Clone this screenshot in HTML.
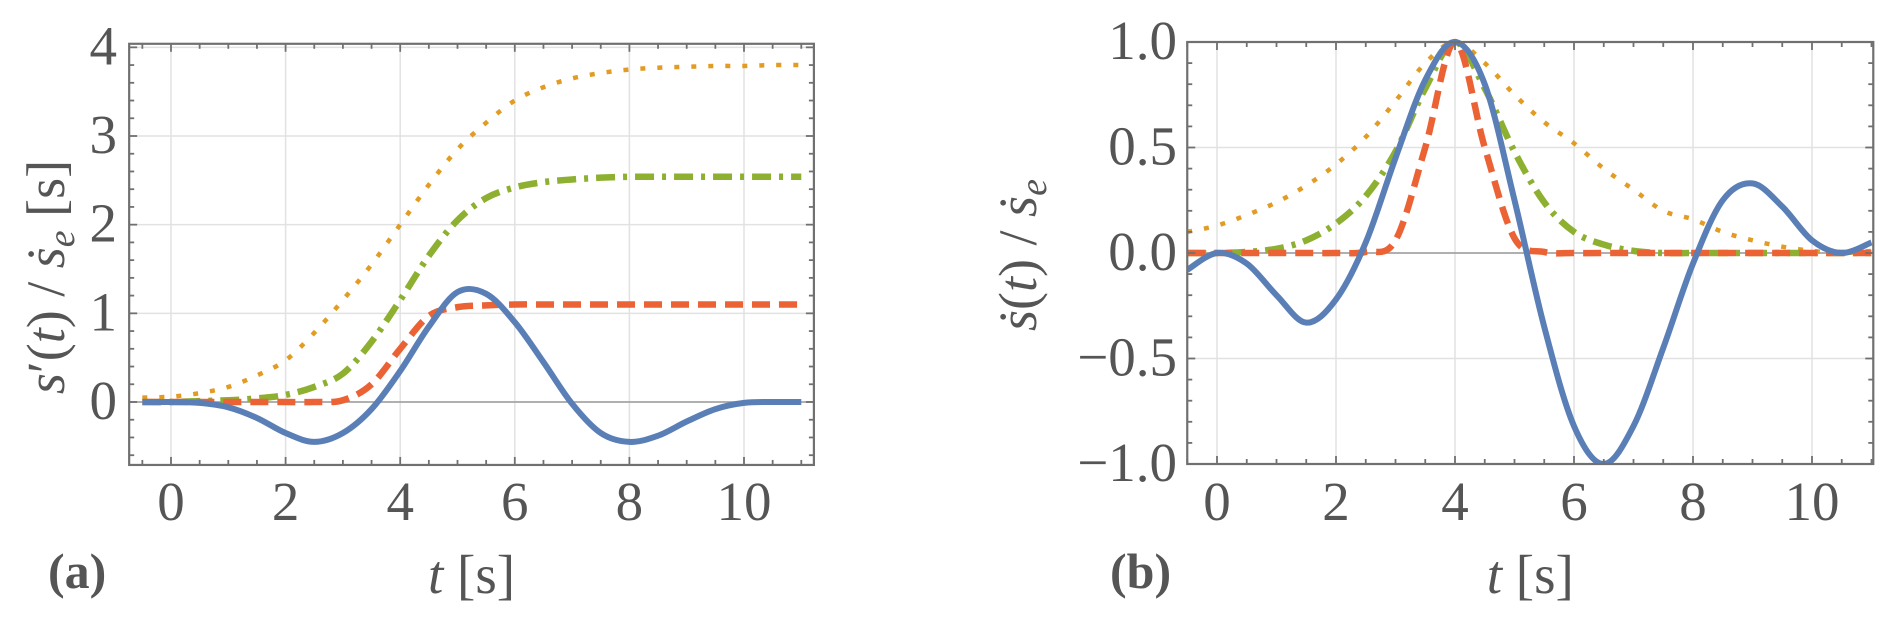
<!DOCTYPE html>
<html><head><meta charset="utf-8">
<style>
html,body{margin:0;padding:0;background:#fff;}
svg{display:block;}
text{font-family:"Liberation Serif","DejaVu Serif",serif;fill:#555;}
</style></head>
<body>
<svg id="fig" width="1892" height="619" viewBox="0 0 1892 619" xmlns="http://www.w3.org/2000/svg">
<g id="pa"></g>
<g id="pb"></g>
</svg>
<script>
// shared time samples
const tValues = [-0.5,0,0.5,1,1.5,2,2.5,3,3.5,4,4.5,5,5.5,6,6.5,7,7.5,8,8.5,9,9.5,10,10.5,11];
// panel (a)
const aBlue   = [0,0,-0.01,-0.06,-0.18,-0.35,-0.45,-0.35,-0.08,0.35,0.85,1.24,1.22,0.9,0.45,-0.02,-0.35,-0.45,-0.38,-0.22,-0.08,-0.01,0,0];
const aOrange = [0.05,0.06,0.1,0.17,0.3,0.47,0.78,1.15,1.55,2.0,2.45,2.85,3.15,3.4,3.55,3.65,3.71,3.75,3.77,3.78,3.79,3.79,3.8,3.8];
const aGreen  = [0,0,0.01,0.02,0.04,0.08,0.17,0.32,0.68,1.15,1.65,2.05,2.3,2.42,2.48,2.51,2.53,2.54,2.54,2.54,2.54,2.54,2.54,2.54];
const aRed    = [0,0,0,0,0,0,0,0.02,0.2,0.6,0.97,1.07,1.09,1.1,1.1,1.1,1.1,1.1,1.1,1.1,1.1,1.1,1.1,1.1];
const aYTicks = ["0","1","2","3","4"];
const aXTicks = ["0","2","4","6","8","10"];
// panel (b)
const bBlue   = [-0.08,0,-0.05,-0.2,-0.33,-0.22,0.05,0.45,0.82,1.0,0.8,0.25,-0.35,-0.82,-1.0,-0.82,-0.45,-0.05,0.25,0.33,0.22,0.06,0.0,0.05];
const bOrange = [0.1,0.13,0.18,0.24,0.32,0.42,0.55,0.72,0.9,1.0,0.9,0.75,0.62,0.52,0.4,0.3,0.2,0.16,0.1,0.06,0.03,0.01,0,0.01];
const bGreen  = [0,0,0.005,0.02,0.06,0.14,0.27,0.48,0.78,1.0,0.78,0.48,0.24,0.1,0.04,0.01,0,0,0,0,0,0,0,0];
const bRed    = [0,0,0,0,0,0,0.005,0.06,0.5,1.0,0.5,0.07,0.005,0,0,0,0,0,0,0,0,0,0,0];
const bYTicks = ["−1.0","−0.5","0.0","0.5","1.0"];
const bXTicks = ["0","2","4","6","8","10"];

const NS="http://www.w3.org/2000/svg";
function mk(parent,tag,attrs){const e=document.createElementNS(NS,tag);for(const k in attrs)e.setAttribute(k,attrs[k]);parent.appendChild(e);return e;}

function smoothPath(pts){
  let d="M"+pts[0][0].toFixed(2)+","+pts[0][1].toFixed(2);
  for(let i=0;i<pts.length-1;i++){
    const p0=pts[Math.max(0,i-1)],p1=pts[i],p2=pts[i+1],p3=pts[Math.min(pts.length-1,i+2)];
    const c1=[p1[0]+(p2[0]-p0[0])/6,p1[1]+(p2[1]-p0[1])/6];
    const c2=[p2[0]-(p3[0]-p1[0])/6,p2[1]-(p3[1]-p1[1])/6];
    d+=" C"+c1[0].toFixed(2)+","+c1[1].toFixed(2)+" "+c2[0].toFixed(2)+","+c2[1].toFixed(2)+" "+p2[0].toFixed(2)+","+p2[1].toFixed(2);
  }
  return d;
}

function panel(g,cfg){
  const X=v=>cfg.x0px+(v-cfg.xmin)*(cfg.x1px-cfg.x0px)/(cfg.xmax-cfg.xmin);
  const Y=v=>cfg.y0px-(v-cfg.ymin)*(cfg.y0px-cfg.y1px)/(cfg.ymax-cfg.ymin);
  const L=X(cfg.xl),R=X(cfg.xr),T=Y(cfg.yt),B=Y(cfg.yb);
  const grid=mk(g,"g",{});
  
  
  cfg.xMaj.forEach(v=>mk(grid,"line",{x1:X(v),x2:X(v),y1:T,y2:B,stroke:"#e2e2e2","stroke-width":1.5}));
  cfg.yMaj.forEach(v=>mk(grid,"line",{x1:L,x2:R,y1:Y(v),y2:Y(v),stroke:"#e2e2e2","stroke-width":1.5}));
  const zl=mk(g,"line",{x1:L,x2:R,y1:Y(0),y2:Y(0),stroke:"#9a9a9a","stroke-width":1.6});
  
  
  const cp=mk(g,"clipPath",{id:cfg.id+"clip"});
  mk(cp,"rect",{x:L,y:T-4,width:R-L,height:B-T+4});
  const series=[
    {name:"orange-dotted",data:cfg.orange,color:"#E29B23",w:4.5,dash:"5 12"},
    {name:"green-dash-dot",data:cfg.green,color:"#8DB031",w:6.5,dash:"19 8 4 8"},
    {name:"red-dashed",data:cfg.red,color:"#EB6235",w:6.5,dash:"18 9"},
    {name:"blue-solid",data:cfg.blue,color:"#5A7FB7",w:6,dash:"none"}
  ];
  const sg=mk(g,"g",{"clip-path":"url(#"+cfg.id+"clip)"});
  series.forEach(s=>{
    const pts=tValues.map((t,i)=>[X(t),Y(s.data[i])]);
    const p=mk(sg,"path",{d:smoothPath(pts),fill:"none",stroke:s.color,"stroke-width":s.w,"stroke-dasharray":s.dash,"stroke-linecap":"butt","stroke-linejoin":"round"});
    
    
  });
  const fr=mk(g,"rect",{x:L,y:T,width:R-L,height:B-T,fill:"none",stroke:"#707070","stroke-width":2.2});
  
  
  const tk=mk(g,"g",{stroke:"#707070","stroke-width":1.8});
  
  
  cfg.xMin.forEach(v=>{if(X(v)<L||X(v)>R)return;const len=cfg.xMaj.includes(v)?8:5;
    mk(tk,"line",{x1:X(v),x2:X(v),y1:B,y2:B-len});mk(tk,"line",{x1:X(v),x2:X(v),y1:T,y2:T+len});});
  cfg.yMin.forEach(v=>{if(Y(v)<T-0.5||Y(v)>B+0.5)return;const len=cfg.yMaj.some(m=>Math.abs(m-v)<1e-6)?8:5;
    mk(tk,"line",{x1:L,x2:L+len,y1:Y(v),y2:Y(v)});mk(tk,"line",{x1:R,x2:R-len,y1:Y(v),y2:Y(v)});});
  cfg.yMaj.forEach((v,i)=>{
    const t=mk(g,"text",{x:cfg.ylabX,y:Y(v)+17,"text-anchor":"end","font-size":55});
    t.textContent=cfg.yTicks[i];
    
    
  });
  cfg.xMaj.forEach((v,i)=>{
    const t=mk(g,"text",{x:X(v),y:520,"text-anchor":"middle","font-size":55});
    t.textContent=cfg.xTicks[i];
    
    
  });
  const xt=mk(g,"text",{x:(L+R)/2,y:593,"text-anchor":"middle","font-size":55});
  xt.innerHTML='<tspan font-style="italic">t</tspan> [s]';
  
  
  const pl=mk(g,"text",{x:cfg.letterX,y:588,"font-size":50,"font-weight":"bold"});
  pl.textContent=cfg.letter;
  
  
  const yt=mk(g,"text",{x:0,y:0,"text-anchor":"middle","font-size":54,transform:"translate("+cfg.ytX+","+cfg.ytY+") rotate(-90)"});
  yt.innerHTML=cfg.yTitle;
  
  
}

const halves=(a,b,s)=>{const r=[];for(let v=a;v<=b+1e-9;v+=s)r.push(Math.round(v*100)/100);return r;};

panel(document.getElementById("pa"),{
  id:"a",xmin:0,xmax:2,x0px:171,x1px:285.6,ymin:0,ymax:3,y0px:402,y1px:136,
  xl:-0.73,xr:11.22,yt:4.04,yb:-0.71,
  xMaj:[0,2,4,6,8,10],xMin:halves(-0.5,11,0.5),
  yMaj:[0,1,2,3,4],yMin:halves(-0.6,4,0.2),
  blue:aBlue,orange:aOrange,green:aGreen,red:aRed,
  yTicks:aYTicks,xTicks:aXTicks,ylabX:117,letter:"(a)",letterX:48,
  ytX:64,ytY:277,
  yTitle:'<tspan font-style="italic">s</tspan>′(<tspan font-style="italic">t</tspan>) / <tspan font-style="italic">ṡ</tspan><tspan font-style="italic" font-size="38" dy="10">e</tspan><tspan dy="-10">  [s]</tspan>'
});
panel(document.getElementById("pb"),{
  id:"b",xmin:0,xmax:10,x0px:1217,x1px:1812,ymin:0,ymax:1,y0px:253,y1px:42,
  xl:-0.5,xr:11.03,yt:1.0,yb:-1.0,
  xMaj:[0,2,4,6,8,10],xMin:halves(-0.5,11,0.5),
  yMaj:[-1,-0.5,0,0.5,1],yMin:halves(-1,1,0.1),
  blue:bBlue,orange:bOrange,green:bGreen,red:bRed,
  yTicks:bYTicks,xTicks:bXTicks,ylabX:1177,letter:"(b)",letterX:1110,
  ytX:1036,ytY:255,
  yTitle:'<tspan font-style="italic">ṡ</tspan>(<tspan font-style="italic">t</tspan>) / <tspan font-style="italic">ṡ</tspan><tspan font-style="italic" font-size="38" dy="10">e</tspan>'
});
</script>
</body></html>
